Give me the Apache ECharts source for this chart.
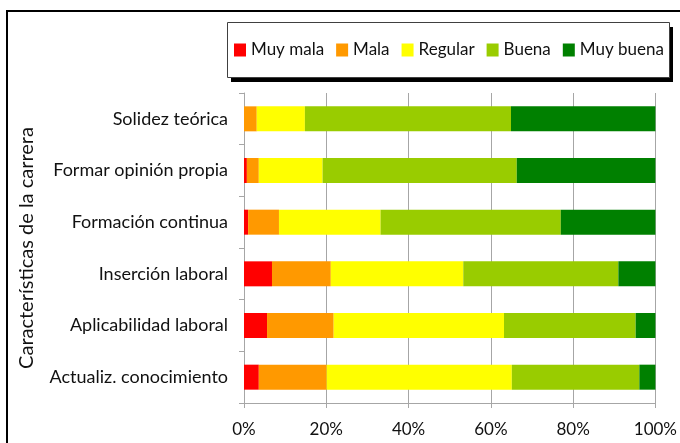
<!DOCTYPE html>
<html>
<head>
<meta charset="utf-8">
<script src="https://cdn.jsdelivr.net/npm/echarts@6/dist/echarts.min.js"></script>
<style>
html,body{margin:0;padding:0;background:#fff;}
#chart{width:680px;height:443px;}
</style>
</head>
<body>
<div id="chart"></div>
<script>
// categorias (de arriba a abajo)
var categorias=["Solidez teórica","Formar opinión propia","Formación continua","Inserción laboral","Aplicabilidad laboral","Actualiz. conocimiento"];
var nombres=["Muy mala","Mala","Regular","Buena","Muy buena"];
var colores=["#ff0000","#ff9900","#ffff00","#99cc00","#008000"];
// porcentajes por serie
var muyMala=[0,0.7,1.0,6.8,5.6,3.6];
var mala=[3.1,2.9,7.5,14.3,16.2,16.5];
var regular=[11.7,15.5,24.7,32.2,41.4,45.0];
var buena=[50.1,47.2,43.8,37.7,32.0,31.0];
var muyBuena=[35.1,33.7,23.0,9.0,4.8,3.9];
var ticksX=[0,20,40,60,80,100];

var valores=[muyMala,mala,regular,buena,muyBuena];
var fuente="Lato";
var gris="#a6a6a6";

var series=[];
for(var i=0;i<nombres.length;i++){
    series.push({
        name:nombres[i],
        type:"bar",
        stack:"total",
        barWidth:25,
        itemStyle:{color:colores[i]},
        data:valores[i]
    });
}

var chart=echarts.init(document.getElementById("chart"));
var option={
    animation:false,
    textStyle:{fontFamily:fuente},
    graphic:[
        // marco exterior
        {type:"rect",z:0,shape:{x:7,y:11,width:720,height:460},style:{fill:"none",stroke:"#000",lineWidth:2}},
        // sombra y caja de la leyenda
        {type:"rect",z:1,shape:{x:231,y:27,width:442,height:55},style:{fill:"#000"}},
        {type:"rect",z:2,shape:{x:227.5,y:22.5,width:442,height:55},style:{fill:"#fff",stroke:"#404040",lineWidth:1}}
    ],
    legend:{
        left:234,
        top:41,
        width:440,
        padding:0,
        icon:"rect",
        itemWidth:12,
        itemHeight:13,
        itemGap:12,
        z:5,
        textStyle:{fontFamily:fuente,fontSize:17,color:"#111",lineHeight:18,padding:[0,0,0,0]},
        data:nombres
    },
    grid:{left:244,right:23,top:93,bottom:40},
    xAxis:{
        type:"value",
        min:ticksX[0],
        max:ticksX[ticksX.length-1],
        interval:20,
        axisLine:{show:true,lineStyle:{color:gris}},
        axisTick:{show:true,length:5,lineStyle:{color:gris}},
        splitLine:{show:true,lineStyle:{color:gris,width:1}},
        axisLabel:{formatter:"{value}%",fontSize:17,color:"#111",margin:18,fontFamily:fuente}
    },
    yAxis:{
        type:"category",
        inverse:true,
        data:categorias,
        name:"Características de la carrera",
        nameLocation:"middle",
        nameGap:207,
        nameTextStyle:{fontSize:20,color:"#111",fontFamily:fuente},
        axisLine:{show:true,lineStyle:{color:gris}},
        axisTick:{show:true,length:5,lineStyle:{color:gris}},
        axisLabel:{fontSize:18,color:"#111",margin:16,fontFamily:fuente}
    },
    series:series
};
chart.setOption(option);
</script>
</body>
</html>
